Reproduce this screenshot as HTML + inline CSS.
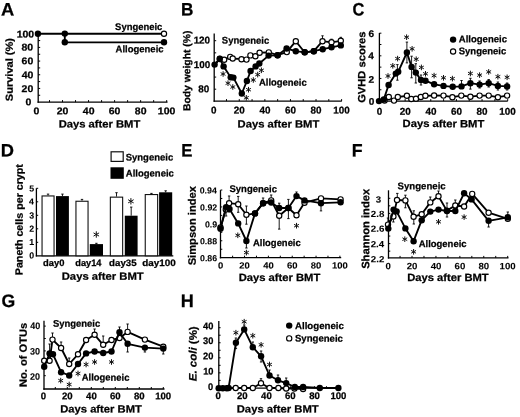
<!DOCTYPE html>
<html><head><meta charset="utf-8"><style>
html,body{margin:0;padding:0;background:#fff;}
svg{display:block;font-family:"Liberation Sans", sans-serif;text-rendering:geometricPrecision;}
text{stroke:#000;stroke-width:0.25px;}
svg{filter:blur(0.35px);}
</style></head><body>
<svg width="520" height="417" viewBox="0 0 520 417">
<rect width="520" height="417" fill="#fff"/>
<text transform="translate(0.89 15.50) scale(1.0199 1.0000) rotate(0.05)" font-size="18" font-weight="bold">A</text>
<text transform="translate(180.94 15.60) scale(0.9563 1.0000) rotate(0.05)" font-size="18" font-weight="bold">B</text>
<text transform="translate(352.45 15.60) scale(0.9075 1.0000) rotate(0.05)" font-size="18" font-weight="bold">C</text>
<text transform="translate(0.87 156.40) scale(1.0159 1.0000) rotate(0.05)" font-size="18" font-weight="bold">D</text>
<text transform="translate(181.27 156.40) scale(0.9325 1.0000) rotate(0.05)" font-size="18" font-weight="bold">E</text>
<text transform="translate(351.70 156.40) scale(0.9852 1.0000) rotate(0.05)" font-size="18" font-weight="bold">F</text>
<text transform="translate(1.39 307.10) scale(0.9794 1.0000) rotate(0.05)" font-size="18" font-weight="bold">G</text>
<text transform="translate(180.68 307.00) scale(1.0024 1.0000) rotate(0.05)" font-size="18" font-weight="bold">H</text>
<line x1="38.20" y1="33.50" x2="38.20" y2="102.75" stroke="#000" stroke-width="1.3"/>
<line x1="37.55" y1="102.10" x2="167.50" y2="102.10" stroke="#000" stroke-width="1.3"/>
<line x1="38.20" y1="95.27" x2="40.20" y2="95.27" stroke="#000" stroke-width="1"/>
<line x1="38.20" y1="88.43" x2="40.20" y2="88.43" stroke="#000" stroke-width="1"/>
<line x1="38.20" y1="81.59" x2="40.20" y2="81.59" stroke="#000" stroke-width="1"/>
<line x1="38.20" y1="74.76" x2="40.20" y2="74.76" stroke="#000" stroke-width="1"/>
<line x1="38.20" y1="67.92" x2="40.20" y2="67.92" stroke="#000" stroke-width="1"/>
<line x1="38.20" y1="61.09" x2="40.20" y2="61.09" stroke="#000" stroke-width="1"/>
<line x1="38.20" y1="54.25" x2="40.20" y2="54.25" stroke="#000" stroke-width="1"/>
<line x1="38.20" y1="47.42" x2="40.20" y2="47.42" stroke="#000" stroke-width="1"/>
<line x1="38.20" y1="40.58" x2="40.20" y2="40.58" stroke="#000" stroke-width="1"/>
<line x1="38.20" y1="33.75" x2="40.20" y2="33.75" stroke="#000" stroke-width="1"/>
<line x1="49.50" y1="102.10" x2="49.50" y2="100.10" stroke="#000" stroke-width="1"/>
<line x1="62.52" y1="102.10" x2="62.52" y2="100.10" stroke="#000" stroke-width="1"/>
<line x1="75.54" y1="102.10" x2="75.54" y2="100.10" stroke="#000" stroke-width="1"/>
<line x1="88.56" y1="102.10" x2="88.56" y2="100.10" stroke="#000" stroke-width="1"/>
<line x1="101.58" y1="102.10" x2="101.58" y2="100.10" stroke="#000" stroke-width="1"/>
<line x1="114.60" y1="102.10" x2="114.60" y2="100.10" stroke="#000" stroke-width="1"/>
<line x1="127.62" y1="102.10" x2="127.62" y2="100.10" stroke="#000" stroke-width="1"/>
<line x1="140.64" y1="102.10" x2="140.64" y2="100.10" stroke="#000" stroke-width="1"/>
<line x1="153.66" y1="102.10" x2="153.66" y2="100.10" stroke="#000" stroke-width="1"/>
<line x1="166.68" y1="102.10" x2="166.68" y2="100.10" stroke="#000" stroke-width="1"/>
<text transform="translate(16.64 37.47) scale(1.0700 1.0000) rotate(0.05)" font-size="9.8" font-weight="bold">100</text>
<text transform="translate(21.42 50.47) scale(1.0700 1.0000) rotate(0.05)" font-size="9.8" font-weight="bold">80</text>
<text transform="translate(21.59 64.27) scale(1.0700 1.0000) rotate(0.05)" font-size="9.8" font-weight="bold">60</text>
<text transform="translate(21.71 78.17) scale(1.0700 1.0000) rotate(0.05)" font-size="9.8" font-weight="bold">40</text>
<text transform="translate(21.61 91.97) scale(1.0700 1.0000) rotate(0.05)" font-size="9.8" font-weight="bold">20</text>
<text transform="translate(25.59 105.37) scale(1.0700 1.0000) rotate(0.05)" font-size="9.8" font-weight="bold">0</text>
<text transform="translate(33.57 114.27) scale(1.0700 1.0000) rotate(0.05)" font-size="9.8" font-weight="bold">0</text>
<text transform="translate(56.73 114.27) scale(1.0700 1.0000) rotate(0.05)" font-size="9.8" font-weight="bold">20</text>
<text transform="translate(82.87 114.27) scale(1.0700 1.0000) rotate(0.05)" font-size="9.8" font-weight="bold">40</text>
<text transform="translate(108.79 114.27) scale(1.0700 1.0000) rotate(0.05)" font-size="9.8" font-weight="bold">60</text>
<text transform="translate(134.86 114.27) scale(1.0700 1.0000) rotate(0.05)" font-size="9.8" font-weight="bold">80</text>
<text transform="translate(157.82 114.27) scale(1.0700 1.0000) rotate(0.05)" font-size="9.8" font-weight="bold">100</text>
<text transform="translate(58.64 127.40) scale(1.0684 1.0000) rotate(0.05)" font-size="10.5" font-weight="bold">Days after BMT</text>
<text transform="translate(12.80 101.13) rotate(-90) scale(1.0803 1.0000) rotate(0.05)" font-size="10.2" font-weight="bold">Survival (%)</text>
<text transform="translate(115.12 29.90) scale(0.9842 1.0000) rotate(0.05)" font-size="9.6" font-weight="bold">Syngeneic</text>
<text transform="translate(115.56 52.20) scale(0.9891 1.0000) rotate(0.05)" font-size="9.6" font-weight="bold">Allogeneic</text>
<polyline points="37.90,33.70 164.00,33.70" fill="none" stroke="#000" stroke-width="1.85" stroke-linejoin="round"/>
<polyline points="64.80,33.60 64.80,42.30 164.00,42.30" fill="none" stroke="#000" stroke-width="1.85" stroke-linejoin="round"/>
<circle cx="37.90" cy="33.70" r="3.2" fill="#000"/>
<circle cx="64.80" cy="33.60" r="3.2" fill="#000"/>
<circle cx="64.80" cy="42.30" r="3.2" fill="#000"/>
<circle cx="164.00" cy="42.30" r="3.2" fill="#000"/>
<circle cx="164.00" cy="33.70" r="2.62" fill="#fff" stroke="#000" stroke-width="1.15"/>
<line x1="214.20" y1="33.50" x2="214.20" y2="101.75" stroke="#000" stroke-width="1.3"/>
<line x1="213.55" y1="101.10" x2="341.80" y2="101.10" stroke="#000" stroke-width="1.3"/>
<line x1="214.20" y1="89.20" x2="216.20" y2="89.20" stroke="#000" stroke-width="1"/>
<line x1="214.20" y1="77.08" x2="216.20" y2="77.08" stroke="#000" stroke-width="1"/>
<line x1="214.20" y1="64.95" x2="216.20" y2="64.95" stroke="#000" stroke-width="1"/>
<line x1="214.20" y1="52.83" x2="216.20" y2="52.83" stroke="#000" stroke-width="1"/>
<line x1="214.20" y1="40.70" x2="216.20" y2="40.70" stroke="#000" stroke-width="1"/>
<line x1="226.49" y1="101.10" x2="226.49" y2="99.10" stroke="#000" stroke-width="1"/>
<line x1="239.28" y1="101.10" x2="239.28" y2="99.10" stroke="#000" stroke-width="1"/>
<line x1="252.07" y1="101.10" x2="252.07" y2="99.10" stroke="#000" stroke-width="1"/>
<line x1="264.86" y1="101.10" x2="264.86" y2="99.10" stroke="#000" stroke-width="1"/>
<line x1="277.65" y1="101.10" x2="277.65" y2="99.10" stroke="#000" stroke-width="1"/>
<line x1="290.44" y1="101.10" x2="290.44" y2="99.10" stroke="#000" stroke-width="1"/>
<line x1="303.23" y1="101.10" x2="303.23" y2="99.10" stroke="#000" stroke-width="1"/>
<line x1="316.02" y1="101.10" x2="316.02" y2="99.10" stroke="#000" stroke-width="1"/>
<line x1="328.81" y1="101.10" x2="328.81" y2="99.10" stroke="#000" stroke-width="1"/>
<line x1="341.60" y1="101.10" x2="341.60" y2="99.10" stroke="#000" stroke-width="1"/>
<text transform="translate(193.63 43.40) scale(1.0000 1.0000) rotate(0.05)" font-size="9.9" font-weight="bold">120</text>
<text transform="translate(193.83 68.10) scale(1.0000 1.0000) rotate(0.05)" font-size="9.9" font-weight="bold">100</text>
<text transform="translate(198.19 92.30) scale(1.0000 1.0000) rotate(0.05)" font-size="9.9" font-weight="bold">80</text>
<text transform="translate(210.95 113.50) scale(1.0000 1.0000) rotate(0.05)" font-size="9.9" font-weight="bold">0</text>
<text transform="translate(233.81 113.50) scale(1.0000 1.0000) rotate(0.05)" font-size="9.9" font-weight="bold">20</text>
<text transform="translate(259.49 113.50) scale(1.0000 1.0000) rotate(0.05)" font-size="9.9" font-weight="bold">40</text>
<text transform="translate(284.96 113.50) scale(1.0000 1.0000) rotate(0.05)" font-size="9.9" font-weight="bold">60</text>
<text transform="translate(310.56 113.50) scale(1.0000 1.0000) rotate(0.05)" font-size="9.9" font-weight="bold">80</text>
<text transform="translate(333.23 113.50) scale(1.0000 1.0000) rotate(0.05)" font-size="9.9" font-weight="bold">100</text>
<text transform="translate(237.54 127.50) scale(1.0697 1.0000) rotate(0.05)" font-size="10.5" font-weight="bold">Days after BMT</text>
<text transform="translate(190.30 111.10) rotate(-90) scale(1.0263 1.0000) rotate(0.05)" font-size="10.1" font-weight="bold">Body weight (%)</text>
<text transform="translate(221.82 43.60) scale(0.9885 1.0000) rotate(0.05)" font-size="9.6" font-weight="bold">Syngeneic</text>
<text transform="translate(258.96 85.60) scale(0.9849 1.0000) rotate(0.05)" font-size="9.6" font-weight="bold">Allogeneic</text>
<line x1="322.50" y1="41.20" x2="322.50" y2="35.80" stroke="#000" stroke-width="0.9"/>
<line x1="321.30" y1="35.80" x2="323.70" y2="35.80" stroke="#000" stroke-width="0.9"/>
<line x1="331.50" y1="42.30" x2="331.50" y2="39.20" stroke="#000" stroke-width="0.9"/>
<line x1="330.30" y1="39.20" x2="332.70" y2="39.20" stroke="#000" stroke-width="0.9"/>
<line x1="340.80" y1="40.80" x2="340.80" y2="37.30" stroke="#000" stroke-width="0.9"/>
<line x1="339.60" y1="37.30" x2="342.00" y2="37.30" stroke="#000" stroke-width="0.9"/>
<polyline points="214.60,64.60 219.80,59.00 224.20,59.80 230.20,56.90 232.70,58.50 241.50,59.20 246.50,59.60 250.40,55.40 255.40,56.20 259.60,52.70 268.80,52.40 277.60,55.20 286.80,52.10 295.80,41.20 304.60,52.30 313.80,51.20 322.50,41.20 331.50,42.30 340.80,40.80" fill="none" stroke="#000" stroke-width="1.85" stroke-linejoin="round"/>
<circle cx="219.80" cy="59.00" r="2.62" fill="#fff" stroke="#000" stroke-width="1.15"/>
<circle cx="224.20" cy="59.80" r="2.62" fill="#fff" stroke="#000" stroke-width="1.15"/>
<circle cx="230.20" cy="56.90" r="2.62" fill="#fff" stroke="#000" stroke-width="1.15"/>
<circle cx="232.70" cy="58.50" r="2.62" fill="#fff" stroke="#000" stroke-width="1.15"/>
<circle cx="241.50" cy="59.20" r="2.62" fill="#fff" stroke="#000" stroke-width="1.15"/>
<circle cx="246.50" cy="59.60" r="2.62" fill="#fff" stroke="#000" stroke-width="1.15"/>
<circle cx="250.40" cy="55.40" r="2.62" fill="#fff" stroke="#000" stroke-width="1.15"/>
<circle cx="255.40" cy="56.20" r="2.62" fill="#fff" stroke="#000" stroke-width="1.15"/>
<circle cx="259.60" cy="52.70" r="2.62" fill="#fff" stroke="#000" stroke-width="1.15"/>
<circle cx="268.80" cy="52.40" r="2.62" fill="#fff" stroke="#000" stroke-width="1.15"/>
<circle cx="277.60" cy="55.20" r="2.62" fill="#fff" stroke="#000" stroke-width="1.15"/>
<circle cx="286.80" cy="52.10" r="2.62" fill="#fff" stroke="#000" stroke-width="1.15"/>
<circle cx="295.80" cy="41.20" r="2.62" fill="#fff" stroke="#000" stroke-width="1.15"/>
<circle cx="304.60" cy="52.30" r="2.62" fill="#fff" stroke="#000" stroke-width="1.15"/>
<circle cx="313.80" cy="51.20" r="2.62" fill="#fff" stroke="#000" stroke-width="1.15"/>
<circle cx="322.50" cy="41.20" r="2.62" fill="#fff" stroke="#000" stroke-width="1.15"/>
<circle cx="331.50" cy="42.30" r="2.62" fill="#fff" stroke="#000" stroke-width="1.15"/>
<circle cx="340.80" cy="40.80" r="2.62" fill="#fff" stroke="#000" stroke-width="1.15"/>
<polyline points="214.60,64.60 219.80,58.80 223.60,66.40 230.70,77.30 233.40,77.60 241.80,93.50 246.90,81.00 250.60,71.00 255.60,66.40 259.30,63.50 268.60,55.60 277.60,55.30 286.60,48.50 295.80,51.20 304.80,52.30 313.80,51.20 322.70,49.20 331.50,47.30 340.80,45.40" fill="none" stroke="#000" stroke-width="1.85" stroke-linejoin="round"/>
<circle cx="214.60" cy="64.60" r="3.2" fill="#000"/>
<circle cx="219.80" cy="58.80" r="3.2" fill="#000"/>
<circle cx="223.60" cy="66.40" r="3.2" fill="#000"/>
<circle cx="230.70" cy="77.30" r="3.2" fill="#000"/>
<circle cx="233.40" cy="77.60" r="3.2" fill="#000"/>
<circle cx="241.80" cy="93.50" r="3.2" fill="#000"/>
<circle cx="246.90" cy="81.00" r="3.2" fill="#000"/>
<circle cx="250.60" cy="71.00" r="3.2" fill="#000"/>
<circle cx="255.60" cy="66.40" r="3.2" fill="#000"/>
<circle cx="259.30" cy="63.50" r="3.2" fill="#000"/>
<circle cx="268.60" cy="55.60" r="3.2" fill="#000"/>
<circle cx="277.60" cy="55.30" r="3.2" fill="#000"/>
<circle cx="286.60" cy="48.50" r="3.2" fill="#000"/>
<circle cx="295.80" cy="51.20" r="3.2" fill="#000"/>
<circle cx="304.80" cy="52.30" r="3.2" fill="#000"/>
<circle cx="313.80" cy="51.20" r="3.2" fill="#000"/>
<circle cx="322.70" cy="49.20" r="3.2" fill="#000"/>
<circle cx="331.50" cy="47.30" r="3.2" fill="#000"/>
<circle cx="340.80" cy="45.40" r="3.2" fill="#000"/>
<path d="M223.10,71.20L223.10,76.80M220.68,72.60L225.52,75.40M225.52,72.60L220.68,75.40" stroke="#111" stroke-width="1.0" fill="none"/>
<path d="M228.00,80.40L228.00,86.00M225.58,81.80L230.42,84.60M230.42,81.80L225.58,84.60" stroke="#111" stroke-width="1.0" fill="none"/>
<path d="M232.80,84.20L232.80,89.80M230.38,85.60L235.22,88.40M235.22,85.60L230.38,88.40" stroke="#111" stroke-width="1.0" fill="none"/>
<path d="M246.30,95.00L246.30,100.60M243.88,96.40L248.72,99.20M248.72,96.40L243.88,99.20" stroke="#111" stroke-width="1.0" fill="none"/>
<path d="M248.50,86.90L248.50,92.50M246.08,88.30L250.92,91.10M250.92,88.30L246.08,91.10" stroke="#111" stroke-width="1.0" fill="none"/>
<path d="M253.30,77.20L253.30,82.80M250.88,78.60L255.72,81.40M255.72,78.60L250.88,81.40" stroke="#111" stroke-width="1.0" fill="none"/>
<path d="M257.70,71.80L257.70,77.40M255.28,73.20L260.12,76.00M260.12,73.20L255.28,76.00" stroke="#111" stroke-width="1.0" fill="none"/>
<path d="M261.40,67.50L261.40,73.10M258.98,68.90L263.82,71.70M263.82,68.90L258.98,71.70" stroke="#111" stroke-width="1.0" fill="none"/>
<line x1="379.40" y1="33.00" x2="379.40" y2="101.75" stroke="#000" stroke-width="1.3"/>
<line x1="378.75" y1="101.10" x2="507.70" y2="101.10" stroke="#000" stroke-width="1.3"/>
<line x1="379.40" y1="89.78" x2="381.40" y2="89.78" stroke="#000" stroke-width="1"/>
<line x1="379.40" y1="78.46" x2="381.40" y2="78.46" stroke="#000" stroke-width="1"/>
<line x1="379.40" y1="67.14" x2="381.40" y2="67.14" stroke="#000" stroke-width="1"/>
<line x1="379.40" y1="55.82" x2="381.40" y2="55.82" stroke="#000" stroke-width="1"/>
<line x1="379.40" y1="44.50" x2="381.40" y2="44.50" stroke="#000" stroke-width="1"/>
<line x1="379.40" y1="33.18" x2="381.40" y2="33.18" stroke="#000" stroke-width="1"/>
<line x1="392.32" y1="101.10" x2="392.32" y2="99.10" stroke="#000" stroke-width="1"/>
<line x1="405.14" y1="101.10" x2="405.14" y2="99.10" stroke="#000" stroke-width="1"/>
<line x1="417.96" y1="101.10" x2="417.96" y2="99.10" stroke="#000" stroke-width="1"/>
<line x1="430.78" y1="101.10" x2="430.78" y2="99.10" stroke="#000" stroke-width="1"/>
<line x1="443.60" y1="101.10" x2="443.60" y2="99.10" stroke="#000" stroke-width="1"/>
<line x1="456.42" y1="101.10" x2="456.42" y2="99.10" stroke="#000" stroke-width="1"/>
<line x1="469.24" y1="101.10" x2="469.24" y2="99.10" stroke="#000" stroke-width="1"/>
<line x1="482.06" y1="101.10" x2="482.06" y2="99.10" stroke="#000" stroke-width="1"/>
<line x1="494.88" y1="101.10" x2="494.88" y2="99.10" stroke="#000" stroke-width="1"/>
<line x1="507.70" y1="101.10" x2="507.70" y2="99.10" stroke="#000" stroke-width="1"/>
<text transform="translate(368.59 37.05) scale(1.0500 1.0000) rotate(0.05)" font-size="9.6" font-weight="bold">6</text>
<text transform="translate(368.35 58.90) scale(1.0500 1.0000) rotate(0.05)" font-size="9.6" font-weight="bold">4</text>
<text transform="translate(368.58 82.65) scale(1.0500 1.0000) rotate(0.05)" font-size="9.6" font-weight="bold">2</text>
<text transform="translate(368.70 104.80) scale(1.0500 1.0000) rotate(0.05)" font-size="9.6" font-weight="bold">0</text>
<text transform="translate(376.75 114.70) scale(1.0000 1.0000) rotate(0.05)" font-size="9.9" font-weight="bold">0</text>
<text transform="translate(399.67 114.70) scale(1.0000 1.0000) rotate(0.05)" font-size="9.9" font-weight="bold">20</text>
<text transform="translate(425.41 114.70) scale(1.0000 1.0000) rotate(0.05)" font-size="9.9" font-weight="bold">40</text>
<text transform="translate(450.94 114.70) scale(1.0000 1.0000) rotate(0.05)" font-size="9.9" font-weight="bold">60</text>
<text transform="translate(476.60 114.70) scale(1.0000 1.0000) rotate(0.05)" font-size="9.9" font-weight="bold">80</text>
<text transform="translate(499.33 114.70) scale(1.0000 1.0000) rotate(0.05)" font-size="9.9" font-weight="bold">100</text>
<text transform="translate(402.54 127.10) scale(1.0697 1.0000) rotate(0.05)" font-size="10.5" font-weight="bold">Days after BMT</text>
<text transform="translate(365.30 102.85) rotate(-90) scale(1.0626 1.0000) rotate(0.05)" font-size="10.5" font-weight="bold">GVHD scores</text>
<circle cx="453.10" cy="39.60" r="3.2" fill="#000"/>
<text transform="translate(458.76 42.20) scale(0.9933 1.0000) rotate(0.05)" font-size="9.6" font-weight="bold">Allogeneic</text>
<circle cx="453.10" cy="51.50" r="2.62" fill="#fff" stroke="#000" stroke-width="1.15"/>
<text transform="translate(458.71 54.20) scale(0.9906 1.0000) rotate(0.05)" font-size="9.6" font-weight="bold">Syngeneic</text>
<line x1="397.40" y1="71.80" x2="397.40" y2="64.60" stroke="#000" stroke-width="0.9"/>
<line x1="396.20" y1="64.60" x2="398.60" y2="64.60" stroke="#000" stroke-width="0.9"/>
<line x1="397.40" y1="71.80" x2="397.40" y2="80.20" stroke="#000" stroke-width="0.9"/>
<line x1="396.20" y1="80.20" x2="398.60" y2="80.20" stroke="#000" stroke-width="0.9"/>
<line x1="406.90" y1="52.50" x2="406.90" y2="42.10" stroke="#000" stroke-width="0.9"/>
<line x1="405.70" y1="42.10" x2="408.10" y2="42.10" stroke="#000" stroke-width="0.9"/>
<line x1="406.90" y1="52.50" x2="406.90" y2="62.90" stroke="#000" stroke-width="0.9"/>
<line x1="405.70" y1="62.90" x2="408.10" y2="62.90" stroke="#000" stroke-width="0.9"/>
<line x1="411.60" y1="66.90" x2="411.60" y2="56.20" stroke="#000" stroke-width="0.9"/>
<line x1="410.40" y1="56.20" x2="412.80" y2="56.20" stroke="#000" stroke-width="0.9"/>
<line x1="411.60" y1="66.90" x2="411.60" y2="77.80" stroke="#000" stroke-width="0.9"/>
<line x1="410.40" y1="77.80" x2="412.80" y2="77.80" stroke="#000" stroke-width="0.9"/>
<line x1="415.80" y1="72.60" x2="415.80" y2="63.70" stroke="#000" stroke-width="0.9"/>
<line x1="414.60" y1="63.70" x2="417.00" y2="63.70" stroke="#000" stroke-width="0.9"/>
<line x1="415.80" y1="72.60" x2="415.80" y2="83.00" stroke="#000" stroke-width="0.9"/>
<line x1="414.60" y1="83.00" x2="417.00" y2="83.00" stroke="#000" stroke-width="0.9"/>
<line x1="421.00" y1="80.00" x2="421.00" y2="75.00" stroke="#000" stroke-width="0.9"/>
<line x1="419.80" y1="75.00" x2="422.20" y2="75.00" stroke="#000" stroke-width="0.9"/>
<line x1="421.00" y1="80.00" x2="421.00" y2="85.00" stroke="#000" stroke-width="0.9"/>
<line x1="419.80" y1="85.00" x2="422.20" y2="85.00" stroke="#000" stroke-width="0.9"/>
<line x1="461.50" y1="86.40" x2="461.50" y2="80.50" stroke="#000" stroke-width="0.9"/>
<line x1="460.30" y1="80.50" x2="462.70" y2="80.50" stroke="#000" stroke-width="0.9"/>
<line x1="470.40" y1="83.20" x2="470.40" y2="78.30" stroke="#000" stroke-width="0.9"/>
<line x1="469.20" y1="78.30" x2="471.60" y2="78.30" stroke="#000" stroke-width="0.9"/>
<line x1="470.40" y1="83.20" x2="470.40" y2="89.10" stroke="#000" stroke-width="0.9"/>
<line x1="469.20" y1="89.10" x2="471.60" y2="89.10" stroke="#000" stroke-width="0.9"/>
<line x1="479.60" y1="84.60" x2="479.60" y2="81.00" stroke="#000" stroke-width="0.9"/>
<line x1="478.40" y1="81.00" x2="480.80" y2="81.00" stroke="#000" stroke-width="0.9"/>
<line x1="479.60" y1="84.60" x2="479.60" y2="88.00" stroke="#000" stroke-width="0.9"/>
<line x1="478.40" y1="88.00" x2="480.80" y2="88.00" stroke="#000" stroke-width="0.9"/>
<line x1="488.70" y1="83.20" x2="488.70" y2="79.50" stroke="#000" stroke-width="0.9"/>
<line x1="487.50" y1="79.50" x2="489.90" y2="79.50" stroke="#000" stroke-width="0.9"/>
<line x1="488.70" y1="83.20" x2="488.70" y2="87.00" stroke="#000" stroke-width="0.9"/>
<line x1="487.50" y1="87.00" x2="489.90" y2="87.00" stroke="#000" stroke-width="0.9"/>
<line x1="497.90" y1="85.90" x2="497.90" y2="82.00" stroke="#000" stroke-width="0.9"/>
<line x1="496.70" y1="82.00" x2="499.10" y2="82.00" stroke="#000" stroke-width="0.9"/>
<line x1="497.90" y1="85.90" x2="497.90" y2="90.00" stroke="#000" stroke-width="0.9"/>
<line x1="496.70" y1="90.00" x2="499.10" y2="90.00" stroke="#000" stroke-width="0.9"/>
<line x1="507.10" y1="86.40" x2="507.10" y2="83.00" stroke="#000" stroke-width="0.9"/>
<line x1="505.90" y1="83.00" x2="508.30" y2="83.00" stroke="#000" stroke-width="0.9"/>
<line x1="507.10" y1="86.40" x2="507.10" y2="90.00" stroke="#000" stroke-width="0.9"/>
<line x1="505.90" y1="90.00" x2="508.30" y2="90.00" stroke="#000" stroke-width="0.9"/>
<polyline points="379.00,101.10 384.60,100.50 388.80,97.00 394.00,100.60 397.80,97.00 406.90,95.80 411.30,99.00 416.00,98.80 420.80,97.00 425.40,95.80 434.10,95.50 443.50,95.60 452.40,97.20 461.30,95.60 470.40,96.70 479.60,95.60 488.70,95.60 497.90,97.20 507.10,95.60" fill="none" stroke="#000" stroke-width="1.85" stroke-linejoin="round"/>
<circle cx="384.60" cy="100.50" r="2.62" fill="#fff" stroke="#000" stroke-width="1.15"/>
<circle cx="388.80" cy="97.00" r="2.62" fill="#fff" stroke="#000" stroke-width="1.15"/>
<circle cx="394.00" cy="100.60" r="2.62" fill="#fff" stroke="#000" stroke-width="1.15"/>
<circle cx="397.80" cy="97.00" r="2.62" fill="#fff" stroke="#000" stroke-width="1.15"/>
<circle cx="406.90" cy="95.80" r="2.62" fill="#fff" stroke="#000" stroke-width="1.15"/>
<circle cx="411.30" cy="99.00" r="2.62" fill="#fff" stroke="#000" stroke-width="1.15"/>
<circle cx="416.00" cy="98.80" r="2.62" fill="#fff" stroke="#000" stroke-width="1.15"/>
<circle cx="420.80" cy="97.00" r="2.62" fill="#fff" stroke="#000" stroke-width="1.15"/>
<circle cx="425.40" cy="95.80" r="2.62" fill="#fff" stroke="#000" stroke-width="1.15"/>
<circle cx="434.10" cy="95.50" r="2.62" fill="#fff" stroke="#000" stroke-width="1.15"/>
<circle cx="443.50" cy="95.60" r="2.62" fill="#fff" stroke="#000" stroke-width="1.15"/>
<circle cx="452.40" cy="97.20" r="2.62" fill="#fff" stroke="#000" stroke-width="1.15"/>
<circle cx="461.30" cy="95.60" r="2.62" fill="#fff" stroke="#000" stroke-width="1.15"/>
<circle cx="470.40" cy="96.70" r="2.62" fill="#fff" stroke="#000" stroke-width="1.15"/>
<circle cx="479.60" cy="95.60" r="2.62" fill="#fff" stroke="#000" stroke-width="1.15"/>
<circle cx="488.70" cy="95.60" r="2.62" fill="#fff" stroke="#000" stroke-width="1.15"/>
<circle cx="497.90" cy="97.20" r="2.62" fill="#fff" stroke="#000" stroke-width="1.15"/>
<circle cx="507.10" cy="95.60" r="2.62" fill="#fff" stroke="#000" stroke-width="1.15"/>
<polyline points="379.00,101.10 383.80,99.40 388.60,85.00 395.80,73.60 398.20,71.80 406.90,52.50 411.60,66.90 415.80,72.60 421.00,80.00 425.50,80.70 434.10,84.30 443.50,85.90 452.70,86.80 461.50,86.40 470.40,83.20 479.60,84.60 488.70,83.20 497.90,85.90 507.10,86.40" fill="none" stroke="#000" stroke-width="1.85" stroke-linejoin="round"/>
<circle cx="379.00" cy="101.10" r="3.2" fill="#000"/>
<circle cx="383.80" cy="99.40" r="3.2" fill="#000"/>
<circle cx="388.60" cy="85.00" r="3.2" fill="#000"/>
<circle cx="395.80" cy="73.60" r="3.2" fill="#000"/>
<circle cx="398.20" cy="71.80" r="3.2" fill="#000"/>
<circle cx="406.90" cy="52.50" r="3.2" fill="#000"/>
<circle cx="411.60" cy="66.90" r="3.2" fill="#000"/>
<circle cx="415.80" cy="72.60" r="3.2" fill="#000"/>
<circle cx="421.00" cy="80.00" r="3.2" fill="#000"/>
<circle cx="425.50" cy="80.70" r="3.2" fill="#000"/>
<circle cx="434.10" cy="84.30" r="3.2" fill="#000"/>
<circle cx="443.50" cy="85.90" r="3.2" fill="#000"/>
<circle cx="452.70" cy="86.80" r="3.2" fill="#000"/>
<circle cx="461.50" cy="86.40" r="3.2" fill="#000"/>
<circle cx="470.40" cy="83.20" r="3.2" fill="#000"/>
<circle cx="479.60" cy="84.60" r="3.2" fill="#000"/>
<circle cx="488.70" cy="83.20" r="3.2" fill="#000"/>
<circle cx="497.90" cy="85.90" r="3.2" fill="#000"/>
<circle cx="507.10" cy="86.40" r="3.2" fill="#000"/>
<path d="M388.00,73.20L388.00,78.80M385.58,74.60L390.42,77.40M390.42,74.60L385.58,77.40" stroke="#111" stroke-width="1.0" fill="none"/>
<path d="M392.80,63.00L392.80,68.60M390.38,64.40L395.22,67.20M395.22,64.40L390.38,67.20" stroke="#111" stroke-width="1.0" fill="none"/>
<path d="M397.60,55.80L397.60,61.40M395.18,57.20L400.02,60.00M400.02,57.20L395.18,60.00" stroke="#111" stroke-width="1.0" fill="none"/>
<path d="M406.60,34.40L406.60,40.00M404.18,35.80L409.02,38.60M409.02,35.80L404.18,38.60" stroke="#111" stroke-width="1.0" fill="none"/>
<path d="M412.10,46.00L412.10,51.60M409.68,47.40L414.52,50.20M414.52,47.40L409.68,50.20" stroke="#111" stroke-width="1.0" fill="none"/>
<path d="M416.20,56.40L416.20,62.00M413.78,57.80L418.62,60.60M418.62,57.80L413.78,60.60" stroke="#111" stroke-width="1.0" fill="none"/>
<path d="M421.40,64.60L421.40,70.20M418.98,66.00L423.82,68.80M423.82,66.00L418.98,68.80" stroke="#111" stroke-width="1.0" fill="none"/>
<path d="M425.50,71.00L425.50,76.60M423.08,72.40L427.92,75.20M427.92,72.40L423.08,75.20" stroke="#111" stroke-width="1.0" fill="none"/>
<path d="M434.10,72.80L434.10,78.40M431.68,74.20L436.52,77.00M436.52,74.20L431.68,77.00" stroke="#111" stroke-width="1.0" fill="none"/>
<path d="M443.50,75.00L443.50,80.60M441.08,76.40L445.92,79.20M445.92,76.40L441.08,79.20" stroke="#111" stroke-width="1.0" fill="none"/>
<path d="M452.40,75.80L452.40,81.40M449.98,77.20L454.82,80.00M454.82,77.20L449.98,80.00" stroke="#111" stroke-width="1.0" fill="none"/>
<path d="M470.40,70.70L470.40,76.30M467.98,72.10L472.82,74.90M472.82,72.10L467.98,74.90" stroke="#111" stroke-width="1.0" fill="none"/>
<path d="M479.60,72.30L479.60,77.90M477.18,73.70L482.02,76.50M482.02,73.70L477.18,76.50" stroke="#111" stroke-width="1.0" fill="none"/>
<path d="M488.70,69.10L488.70,74.70M486.28,70.50L491.12,73.30M491.12,70.50L486.28,73.30" stroke="#111" stroke-width="1.0" fill="none"/>
<path d="M497.90,73.90L497.90,79.50M495.48,75.30L500.32,78.10M500.32,75.30L495.48,78.10" stroke="#111" stroke-width="1.0" fill="none"/>
<path d="M507.10,74.50L507.10,80.10M504.68,75.90L509.52,78.70M509.52,75.90L504.68,78.70" stroke="#111" stroke-width="1.0" fill="none"/>
<line x1="36.40" y1="188.30" x2="36.40" y2="256.45" stroke="#000" stroke-width="1.3"/>
<line x1="35.75" y1="255.80" x2="173.30" y2="255.80" stroke="#000" stroke-width="1.3"/>
<line x1="36.40" y1="242.30" x2="38.20" y2="242.30" stroke="#000" stroke-width="1"/>
<line x1="36.40" y1="228.80" x2="38.20" y2="228.80" stroke="#000" stroke-width="1"/>
<line x1="36.40" y1="215.30" x2="38.20" y2="215.30" stroke="#000" stroke-width="1"/>
<line x1="36.40" y1="201.80" x2="38.20" y2="201.80" stroke="#000" stroke-width="1"/>
<line x1="36.40" y1="188.30" x2="38.20" y2="188.30" stroke="#000" stroke-width="1"/>
<text transform="translate(29.26 191.58) scale(1.0000 1.0000) rotate(0.05)" font-size="8.8" font-weight="bold" style="stroke-width:0.08px">5</text>
<text transform="translate(29.06 204.62) scale(1.0000 1.0000) rotate(0.05)" font-size="8.8" font-weight="bold" style="stroke-width:0.08px">4</text>
<text transform="translate(29.32 218.41) scale(1.0000 1.0000) rotate(0.05)" font-size="8.8" font-weight="bold" style="stroke-width:0.08px">3</text>
<text transform="translate(29.37 231.87) scale(1.0000 1.0000) rotate(0.05)" font-size="8.8" font-weight="bold" style="stroke-width:0.08px">2</text>
<text transform="translate(29.26 245.12) scale(1.0000 1.0000) rotate(0.05)" font-size="8.8" font-weight="bold" style="stroke-width:0.08px">1</text>
<text transform="translate(29.37 258.62) scale(1.0000 1.0000) rotate(0.05)" font-size="8.8" font-weight="bold" style="stroke-width:0.08px">0</text>
<rect x="42.05" y="195.95" width="12.00" height="59.85" fill="#fff" stroke="#111" stroke-width="1.1"/>
<line x1="48.05" y1="195.40" x2="48.05" y2="194.10" stroke="#000" stroke-width="0.9"/>
<line x1="46.85" y1="194.10" x2="49.25" y2="194.10" stroke="#000" stroke-width="0.9"/>
<rect x="56.00" y="196.10" width="12.90" height="59.70" fill="#000"/>
<line x1="62.45" y1="196.10" x2="62.45" y2="194.10" stroke="#000" stroke-width="0.9"/>
<line x1="61.25" y1="194.10" x2="63.65" y2="194.10" stroke="#000" stroke-width="0.9"/>
<rect x="75.95" y="201.25" width="12.10" height="54.55" fill="#fff" stroke="#111" stroke-width="1.1"/>
<line x1="82.00" y1="200.70" x2="82.00" y2="199.40" stroke="#000" stroke-width="0.9"/>
<line x1="80.80" y1="199.40" x2="83.20" y2="199.40" stroke="#000" stroke-width="0.9"/>
<rect x="89.80" y="244.10" width="13.20" height="11.70" fill="#000"/>
<line x1="96.40" y1="244.10" x2="96.40" y2="243.30" stroke="#000" stroke-width="0.9"/>
<line x1="95.20" y1="243.30" x2="97.60" y2="243.30" stroke="#000" stroke-width="0.9"/>
<rect x="110.35" y="197.15" width="12.30" height="58.65" fill="#fff" stroke="#111" stroke-width="1.1"/>
<line x1="116.50" y1="196.60" x2="116.50" y2="192.70" stroke="#000" stroke-width="0.9"/>
<line x1="115.30" y1="192.70" x2="117.70" y2="192.70" stroke="#000" stroke-width="0.9"/>
<rect x="124.80" y="215.70" width="12.80" height="40.10" fill="#000"/>
<line x1="131.20" y1="215.70" x2="131.20" y2="207.10" stroke="#000" stroke-width="0.9"/>
<line x1="130.00" y1="207.10" x2="132.40" y2="207.10" stroke="#000" stroke-width="0.9"/>
<rect x="145.25" y="194.55" width="12.40" height="61.25" fill="#fff" stroke="#111" stroke-width="1.1"/>
<line x1="151.45" y1="194.00" x2="151.45" y2="193.40" stroke="#000" stroke-width="0.9"/>
<line x1="150.25" y1="193.40" x2="152.65" y2="193.40" stroke="#000" stroke-width="0.9"/>
<rect x="159.10" y="192.30" width="13.10" height="63.50" fill="#000"/>
<line x1="165.65" y1="192.30" x2="165.65" y2="190.80" stroke="#000" stroke-width="0.9"/>
<line x1="164.45" y1="190.80" x2="166.85" y2="190.80" stroke="#000" stroke-width="0.9"/>
<path d="M96.30,231.30L96.30,237.70M93.53,232.90L99.07,236.10M99.07,232.90L93.53,236.10" stroke="#111" stroke-width="1.0" fill="none"/>
<path d="M130.90,198.10L130.90,204.50M128.13,199.70L133.67,202.90M133.67,199.70L128.13,202.90" stroke="#111" stroke-width="1.0" fill="none"/>
<text transform="translate(43.03 265.90) scale(1.0080 1.0000) rotate(0.05)" font-size="9.3" font-weight="bold">day0</text>
<text transform="translate(75.23 265.90) scale(0.9943 1.0000) rotate(0.05)" font-size="9.3" font-weight="bold">day14</text>
<text transform="translate(109.11 265.90) scale(1.0452 1.0000) rotate(0.05)" font-size="9.3" font-weight="bold">day35</text>
<text transform="translate(142.20 265.90) scale(1.0623 1.0000) rotate(0.05)" font-size="9.3" font-weight="bold">day100</text>
<text transform="translate(61.74 279.80) scale(1.0724 1.0000) rotate(0.05)" font-size="10.5" font-weight="bold">Days after BMT</text>
<text transform="translate(22.60 275.22) rotate(-90) scale(1.0384 1.0000) rotate(0.05)" font-size="10.3" font-weight="bold">Paneth cells per crypt</text>
<rect x="111.1" y="151.8" width="12.1" height="9.6" fill="#fff" stroke="#111" stroke-width="1.2"/>
<rect x="110.5" y="167.3" width="13.3" height="11.5" fill="#000"/>
<text transform="translate(125.72 160.40) scale(0.9885 1.0000) rotate(0.05)" font-size="9.6" font-weight="bold">Syngeneic</text>
<text transform="translate(125.76 176.50) scale(0.9912 1.0000) rotate(0.05)" font-size="9.6" font-weight="bold">Allogeneic</text>
<line x1="220.50" y1="190.10" x2="220.50" y2="258.35" stroke="#000" stroke-width="1.3"/>
<line x1="219.85" y1="257.70" x2="341.20" y2="257.70" stroke="#000" stroke-width="1.3"/>
<line x1="220.50" y1="249.24" x2="222.30" y2="249.24" stroke="#000" stroke-width="1"/>
<line x1="220.50" y1="240.78" x2="222.30" y2="240.78" stroke="#000" stroke-width="1"/>
<line x1="220.50" y1="232.32" x2="222.30" y2="232.32" stroke="#000" stroke-width="1"/>
<line x1="220.50" y1="223.86" x2="222.30" y2="223.86" stroke="#000" stroke-width="1"/>
<line x1="220.50" y1="215.40" x2="222.30" y2="215.40" stroke="#000" stroke-width="1"/>
<line x1="220.50" y1="206.94" x2="222.30" y2="206.94" stroke="#000" stroke-width="1"/>
<line x1="220.50" y1="198.48" x2="222.30" y2="198.48" stroke="#000" stroke-width="1"/>
<line x1="220.50" y1="190.02" x2="222.30" y2="190.02" stroke="#000" stroke-width="1"/>
<line x1="232.62" y1="257.70" x2="232.62" y2="255.70" stroke="#000" stroke-width="1"/>
<line x1="244.54" y1="257.70" x2="244.54" y2="255.70" stroke="#000" stroke-width="1"/>
<line x1="256.46" y1="257.70" x2="256.46" y2="255.70" stroke="#000" stroke-width="1"/>
<line x1="268.38" y1="257.70" x2="268.38" y2="255.70" stroke="#000" stroke-width="1"/>
<line x1="280.30" y1="257.70" x2="280.30" y2="255.70" stroke="#000" stroke-width="1"/>
<line x1="292.22" y1="257.70" x2="292.22" y2="255.70" stroke="#000" stroke-width="1"/>
<line x1="304.14" y1="257.70" x2="304.14" y2="255.70" stroke="#000" stroke-width="1"/>
<line x1="316.06" y1="257.70" x2="316.06" y2="255.70" stroke="#000" stroke-width="1"/>
<line x1="327.98" y1="257.70" x2="327.98" y2="255.70" stroke="#000" stroke-width="1"/>
<line x1="339.90" y1="257.70" x2="339.90" y2="255.70" stroke="#000" stroke-width="1"/>
<text transform="translate(199.73 193.55) scale(1.0000 1.0000) rotate(0.05)" font-size="8.8" font-weight="bold" style="stroke-width:0.08px">0.94</text>
<text transform="translate(200.04 210.46) scale(1.0000 1.0000) rotate(0.05)" font-size="8.8" font-weight="bold" style="stroke-width:0.08px">0.92</text>
<text transform="translate(204.88 227.38) scale(1.0000 1.0000) rotate(0.05)" font-size="8.8" font-weight="bold" style="stroke-width:0.08px">0.9</text>
<text transform="translate(199.95 244.30) scale(1.0000 1.0000) rotate(0.05)" font-size="8.8" font-weight="bold" style="stroke-width:0.08px">0.88</text>
<text transform="translate(199.99 261.22) scale(1.0000 1.0000) rotate(0.05)" font-size="8.8" font-weight="bold" style="stroke-width:0.08px">0.86</text>
<text transform="translate(218.08 268.49) scale(1.0500 1.0000) rotate(0.05)" font-size="9.0" font-weight="bold" style="stroke-width:0.08px">0</text>
<text transform="translate(239.32 268.49) scale(1.0500 1.0000) rotate(0.05)" font-size="9.0" font-weight="bold" style="stroke-width:0.08px">20</text>
<text transform="translate(263.25 268.49) scale(1.0500 1.0000) rotate(0.05)" font-size="9.0" font-weight="bold" style="stroke-width:0.08px">40</text>
<text transform="translate(286.99 268.49) scale(1.0500 1.0000) rotate(0.05)" font-size="9.0" font-weight="bold" style="stroke-width:0.08px">60</text>
<text transform="translate(310.85 268.49) scale(1.0500 1.0000) rotate(0.05)" font-size="9.0" font-weight="bold" style="stroke-width:0.08px">80</text>
<text transform="translate(331.91 268.49) scale(1.0500 1.0000) rotate(0.05)" font-size="9.0" font-weight="bold" style="stroke-width:0.08px">100</text>
<text transform="translate(238.64 281.00) scale(1.0684 1.0000) rotate(0.05)" font-size="10.5" font-weight="bold">Days after BMT</text>
<text transform="translate(195.80 265.33) rotate(-90) scale(1.0313 1.0000) rotate(0.05)" font-size="10.8" font-weight="bold">Simpson index</text>
<text transform="translate(229.52 192.10) scale(0.9885 1.0000) rotate(0.05)" font-size="9.6" font-weight="bold">Syngeneic</text>
<text transform="translate(253.06 246.00) scale(0.9828 1.0000) rotate(0.05)" font-size="9.6" font-weight="bold">Allogeneic</text>
<line x1="229.10" y1="203.20" x2="229.10" y2="196.00" stroke="#000" stroke-width="0.9"/>
<line x1="227.90" y1="196.00" x2="230.30" y2="196.00" stroke="#000" stroke-width="0.9"/>
<line x1="229.10" y1="203.20" x2="229.10" y2="212.00" stroke="#000" stroke-width="0.9"/>
<line x1="227.90" y1="212.00" x2="230.30" y2="212.00" stroke="#000" stroke-width="0.9"/>
<line x1="238.20" y1="204.20" x2="238.20" y2="196.40" stroke="#000" stroke-width="0.9"/>
<line x1="237.00" y1="196.40" x2="239.40" y2="196.40" stroke="#000" stroke-width="0.9"/>
<line x1="238.20" y1="204.20" x2="238.20" y2="212.30" stroke="#000" stroke-width="0.9"/>
<line x1="237.00" y1="212.30" x2="239.40" y2="212.30" stroke="#000" stroke-width="0.9"/>
<line x1="246.40" y1="214.80" x2="246.40" y2="206.00" stroke="#000" stroke-width="0.9"/>
<line x1="245.20" y1="206.00" x2="247.60" y2="206.00" stroke="#000" stroke-width="0.9"/>
<line x1="246.40" y1="214.80" x2="246.40" y2="224.20" stroke="#000" stroke-width="0.9"/>
<line x1="245.20" y1="224.20" x2="247.60" y2="224.20" stroke="#000" stroke-width="0.9"/>
<line x1="246.40" y1="241.00" x2="246.40" y2="248.00" stroke="#000" stroke-width="0.9"/>
<line x1="245.20" y1="248.00" x2="247.60" y2="248.00" stroke="#000" stroke-width="0.9"/>
<line x1="226.10" y1="207.10" x2="226.10" y2="216.00" stroke="#000" stroke-width="0.9"/>
<line x1="224.90" y1="216.00" x2="227.30" y2="216.00" stroke="#000" stroke-width="0.9"/>
<line x1="279.20" y1="215.70" x2="279.20" y2="229.10" stroke="#000" stroke-width="0.9"/>
<line x1="278.00" y1="229.10" x2="280.40" y2="229.10" stroke="#000" stroke-width="0.9"/>
<line x1="279.20" y1="208.00" x2="279.20" y2="203.20" stroke="#000" stroke-width="0.9"/>
<line x1="278.00" y1="203.20" x2="280.40" y2="203.20" stroke="#000" stroke-width="0.9"/>
<line x1="288.40" y1="208.00" x2="288.40" y2="199.40" stroke="#000" stroke-width="0.9"/>
<line x1="287.20" y1="199.40" x2="289.60" y2="199.40" stroke="#000" stroke-width="0.9"/>
<line x1="288.40" y1="208.00" x2="288.40" y2="218.60" stroke="#000" stroke-width="0.9"/>
<line x1="287.20" y1="218.60" x2="289.60" y2="218.60" stroke="#000" stroke-width="0.9"/>
<line x1="321.00" y1="203.20" x2="321.00" y2="210.90" stroke="#000" stroke-width="0.9"/>
<line x1="319.80" y1="210.90" x2="322.20" y2="210.90" stroke="#000" stroke-width="0.9"/>
<line x1="271.20" y1="200.40" x2="271.20" y2="195.00" stroke="#000" stroke-width="0.9"/>
<line x1="270.00" y1="195.00" x2="272.40" y2="195.00" stroke="#000" stroke-width="0.9"/>
<line x1="263.10" y1="203.20" x2="263.10" y2="198.00" stroke="#000" stroke-width="0.9"/>
<line x1="261.90" y1="198.00" x2="264.30" y2="198.00" stroke="#000" stroke-width="0.9"/>
<line x1="296.50" y1="196.10" x2="296.50" y2="192.00" stroke="#000" stroke-width="0.9"/>
<line x1="295.30" y1="192.00" x2="297.70" y2="192.00" stroke="#000" stroke-width="0.9"/>
<polyline points="220.50,227.50 225.80,209.50 229.10,203.20 238.20,204.20 246.40,214.80 255.00,213.40 263.10,203.20 271.20,200.40 279.20,215.70 288.40,208.00 296.50,215.30 304.50,202.70 321.00,198.40 340.60,199.40" fill="none" stroke="#000" stroke-width="1.85" stroke-linejoin="round"/>
<circle cx="220.50" cy="227.50" r="2.62" fill="#fff" stroke="#000" stroke-width="1.15"/>
<circle cx="225.80" cy="209.50" r="2.62" fill="#fff" stroke="#000" stroke-width="1.15"/>
<circle cx="229.10" cy="203.20" r="2.62" fill="#fff" stroke="#000" stroke-width="1.15"/>
<circle cx="238.20" cy="204.20" r="2.62" fill="#fff" stroke="#000" stroke-width="1.15"/>
<circle cx="246.40" cy="214.80" r="2.62" fill="#fff" stroke="#000" stroke-width="1.15"/>
<circle cx="255.00" cy="213.40" r="2.62" fill="#fff" stroke="#000" stroke-width="1.15"/>
<circle cx="263.10" cy="203.20" r="2.62" fill="#fff" stroke="#000" stroke-width="1.15"/>
<circle cx="271.20" cy="200.40" r="2.62" fill="#fff" stroke="#000" stroke-width="1.15"/>
<circle cx="279.20" cy="215.70" r="2.62" fill="#fff" stroke="#000" stroke-width="1.15"/>
<circle cx="288.40" cy="208.00" r="2.62" fill="#fff" stroke="#000" stroke-width="1.15"/>
<circle cx="296.50" cy="215.30" r="2.62" fill="#fff" stroke="#000" stroke-width="1.15"/>
<circle cx="304.50" cy="202.70" r="2.62" fill="#fff" stroke="#000" stroke-width="1.15"/>
<circle cx="321.00" cy="198.40" r="2.62" fill="#fff" stroke="#000" stroke-width="1.15"/>
<circle cx="340.60" cy="199.40" r="2.62" fill="#fff" stroke="#000" stroke-width="1.15"/>
<polyline points="220.50,228.80 226.10,207.10 229.50,209.00 238.20,223.40 246.40,241.00 255.00,213.40 263.10,203.20 271.20,202.50 279.20,208.00 288.40,208.00 296.50,196.10 304.50,200.40 321.00,203.20 340.60,202.30" fill="none" stroke="#000" stroke-width="1.85" stroke-linejoin="round"/>
<circle cx="220.50" cy="228.80" r="3.2" fill="#000"/>
<circle cx="226.10" cy="207.10" r="3.2" fill="#000"/>
<circle cx="229.50" cy="209.00" r="3.2" fill="#000"/>
<circle cx="238.20" cy="223.40" r="3.2" fill="#000"/>
<circle cx="246.40" cy="241.00" r="3.2" fill="#000"/>
<circle cx="255.00" cy="213.40" r="3.2" fill="#000"/>
<circle cx="263.10" cy="203.20" r="3.2" fill="#000"/>
<circle cx="271.20" cy="202.50" r="3.2" fill="#000"/>
<circle cx="279.20" cy="208.00" r="3.2" fill="#000"/>
<circle cx="288.40" cy="208.00" r="3.2" fill="#000"/>
<circle cx="296.50" cy="196.10" r="3.2" fill="#000"/>
<circle cx="304.50" cy="200.40" r="3.2" fill="#000"/>
<circle cx="321.00" cy="203.20" r="3.2" fill="#000"/>
<circle cx="340.60" cy="202.30" r="3.2" fill="#000"/>
<path d="M237.80,232.50L237.80,238.10M235.38,233.90L240.22,236.70M240.22,233.90L235.38,236.70" stroke="#111" stroke-width="1.0" fill="none"/>
<path d="M246.40,249.80L246.40,255.40M243.98,251.20L248.82,254.00M248.82,251.20L243.98,254.00" stroke="#111" stroke-width="1.0" fill="none"/>
<path d="M296.50,222.90L296.50,228.50M294.08,224.30L298.92,227.10M298.92,224.30L294.08,227.10" stroke="#111" stroke-width="1.0" fill="none"/>
<line x1="388.50" y1="190.30" x2="388.50" y2="258.55" stroke="#000" stroke-width="1.3"/>
<line x1="387.85" y1="257.90" x2="508.50" y2="257.90" stroke="#000" stroke-width="1.3"/>
<line x1="388.50" y1="251.15" x2="390.30" y2="251.15" stroke="#000" stroke-width="1"/>
<line x1="388.50" y1="243.60" x2="390.30" y2="243.60" stroke="#000" stroke-width="1"/>
<line x1="388.50" y1="236.05" x2="390.30" y2="236.05" stroke="#000" stroke-width="1"/>
<line x1="388.50" y1="228.50" x2="390.30" y2="228.50" stroke="#000" stroke-width="1"/>
<line x1="388.50" y1="220.95" x2="390.30" y2="220.95" stroke="#000" stroke-width="1"/>
<line x1="388.50" y1="213.40" x2="390.30" y2="213.40" stroke="#000" stroke-width="1"/>
<line x1="388.50" y1="205.85" x2="390.30" y2="205.85" stroke="#000" stroke-width="1"/>
<line x1="388.50" y1="198.30" x2="390.30" y2="198.30" stroke="#000" stroke-width="1"/>
<line x1="400.06" y1="257.90" x2="400.06" y2="255.90" stroke="#000" stroke-width="1"/>
<line x1="412.02" y1="257.90" x2="412.02" y2="255.90" stroke="#000" stroke-width="1"/>
<line x1="423.98" y1="257.90" x2="423.98" y2="255.90" stroke="#000" stroke-width="1"/>
<line x1="435.94" y1="257.90" x2="435.94" y2="255.90" stroke="#000" stroke-width="1"/>
<line x1="447.90" y1="257.90" x2="447.90" y2="255.90" stroke="#000" stroke-width="1"/>
<line x1="459.86" y1="257.90" x2="459.86" y2="255.90" stroke="#000" stroke-width="1"/>
<line x1="471.82" y1="257.90" x2="471.82" y2="255.90" stroke="#000" stroke-width="1"/>
<line x1="483.78" y1="257.90" x2="483.78" y2="255.90" stroke="#000" stroke-width="1"/>
<line x1="495.74" y1="257.90" x2="495.74" y2="255.90" stroke="#000" stroke-width="1"/>
<line x1="507.70" y1="257.90" x2="507.70" y2="255.90" stroke="#000" stroke-width="1"/>
<text transform="translate(375.76 202.38) scale(1.0800 1.0000) rotate(0.05)" font-size="9.0" font-weight="bold" style="stroke-width:0.08px">3</text>
<text transform="translate(370.82 216.99) scale(1.0800 1.0000) rotate(0.05)" font-size="9.0" font-weight="bold" style="stroke-width:0.08px">2.8</text>
<text transform="translate(370.84 231.69) scale(1.0800 1.0000) rotate(0.05)" font-size="9.0" font-weight="bold" style="stroke-width:0.08px">2.6</text>
<text transform="translate(370.70 247.14) scale(1.0800 1.0000) rotate(0.05)" font-size="9.0" font-weight="bold" style="stroke-width:0.08px">2.4</text>
<text transform="translate(370.87 262.14) scale(1.0800 1.0000) rotate(0.05)" font-size="9.0" font-weight="bold" style="stroke-width:0.08px">2.2</text>
<text transform="translate(385.42 269.36) scale(1.0500 1.0000) rotate(0.05)" font-size="9.2" font-weight="bold" style="stroke-width:0.08px">0</text>
<text transform="translate(406.68 269.36) scale(1.0500 1.0000) rotate(0.05)" font-size="9.2" font-weight="bold" style="stroke-width:0.08px">20</text>
<text transform="translate(430.70 269.36) scale(1.0500 1.0000) rotate(0.05)" font-size="9.2" font-weight="bold" style="stroke-width:0.08px">40</text>
<text transform="translate(454.51 269.36) scale(1.0500 1.0000) rotate(0.05)" font-size="9.2" font-weight="bold" style="stroke-width:0.08px">60</text>
<text transform="translate(478.45 269.36) scale(1.0500 1.0000) rotate(0.05)" font-size="9.2" font-weight="bold" style="stroke-width:0.08px">80</text>
<text transform="translate(499.54 269.36) scale(1.0500 1.0000) rotate(0.05)" font-size="9.2" font-weight="bold" style="stroke-width:0.08px">100</text>
<text transform="translate(407.14 281.00) scale(1.0671 1.0000) rotate(0.05)" font-size="10.5" font-weight="bold">Days after BMT</text>
<text transform="translate(369.20 268.84) rotate(-90) scale(1.0341 1.0000) rotate(0.05)" font-size="10.8" font-weight="bold">Shannon index</text>
<text transform="translate(397.61 189.20) scale(1.0011 1.0000) rotate(0.05)" font-size="9.6" font-weight="bold">Syngeneic</text>
<text transform="translate(418.66 247.00) scale(0.9870 1.0000) rotate(0.05)" font-size="9.6" font-weight="bold">Allogeneic</text>
<line x1="397.30" y1="200.00" x2="397.30" y2="193.40" stroke="#000" stroke-width="0.9"/>
<line x1="396.10" y1="193.40" x2="398.50" y2="193.40" stroke="#000" stroke-width="0.9"/>
<line x1="405.40" y1="200.40" x2="405.40" y2="195.20" stroke="#000" stroke-width="0.9"/>
<line x1="404.20" y1="195.20" x2="406.60" y2="195.20" stroke="#000" stroke-width="0.9"/>
<line x1="405.40" y1="200.40" x2="405.40" y2="207.80" stroke="#000" stroke-width="0.9"/>
<line x1="404.20" y1="207.80" x2="406.60" y2="207.80" stroke="#000" stroke-width="0.9"/>
<line x1="413.80" y1="216.70" x2="413.80" y2="210.80" stroke="#000" stroke-width="0.9"/>
<line x1="412.60" y1="210.80" x2="415.00" y2="210.80" stroke="#000" stroke-width="0.9"/>
<line x1="413.80" y1="216.70" x2="413.80" y2="224.00" stroke="#000" stroke-width="0.9"/>
<line x1="412.60" y1="224.00" x2="415.00" y2="224.00" stroke="#000" stroke-width="0.9"/>
<line x1="430.30" y1="202.40" x2="430.30" y2="197.00" stroke="#000" stroke-width="0.9"/>
<line x1="429.10" y1="197.00" x2="431.50" y2="197.00" stroke="#000" stroke-width="0.9"/>
<line x1="438.50" y1="196.30" x2="438.50" y2="191.00" stroke="#000" stroke-width="0.9"/>
<line x1="437.30" y1="191.00" x2="439.70" y2="191.00" stroke="#000" stroke-width="0.9"/>
<line x1="447.00" y1="211.00" x2="447.00" y2="217.00" stroke="#000" stroke-width="0.9"/>
<line x1="445.80" y1="217.00" x2="448.20" y2="217.00" stroke="#000" stroke-width="0.9"/>
<line x1="447.00" y1="211.00" x2="447.00" y2="203.00" stroke="#000" stroke-width="0.9"/>
<line x1="445.80" y1="203.00" x2="448.20" y2="203.00" stroke="#000" stroke-width="0.9"/>
<line x1="455.30" y1="205.50" x2="455.30" y2="200.00" stroke="#000" stroke-width="0.9"/>
<line x1="454.10" y1="200.00" x2="456.50" y2="200.00" stroke="#000" stroke-width="0.9"/>
<line x1="388.00" y1="224.60" x2="388.00" y2="218.00" stroke="#000" stroke-width="0.9"/>
<line x1="386.80" y1="218.00" x2="389.20" y2="218.00" stroke="#000" stroke-width="0.9"/>
<line x1="393.40" y1="216.40" x2="393.40" y2="222.00" stroke="#000" stroke-width="0.9"/>
<line x1="392.20" y1="222.00" x2="394.60" y2="222.00" stroke="#000" stroke-width="0.9"/>
<line x1="488.60" y1="220.80" x2="488.60" y2="227.00" stroke="#000" stroke-width="0.9"/>
<line x1="487.40" y1="227.00" x2="489.80" y2="227.00" stroke="#000" stroke-width="0.9"/>
<line x1="507.80" y1="217.30" x2="507.80" y2="212.00" stroke="#000" stroke-width="0.9"/>
<line x1="506.60" y1="212.00" x2="509.00" y2="212.00" stroke="#000" stroke-width="0.9"/>
<polyline points="388.00,224.60 393.40,216.40 397.00,200.00 405.40,200.40 413.60,216.70 421.70,214.30 430.30,202.40 438.50,196.30 446.80,210.60 455.30,205.50 464.10,206.50 472.20,193.90 488.60,212.70 507.80,218.80" fill="none" stroke="#000" stroke-width="1.85" stroke-linejoin="round"/>
<circle cx="388.00" cy="224.60" r="2.62" fill="#fff" stroke="#000" stroke-width="1.15"/>
<circle cx="393.40" cy="216.40" r="2.62" fill="#fff" stroke="#000" stroke-width="1.15"/>
<circle cx="397.00" cy="200.00" r="2.62" fill="#fff" stroke="#000" stroke-width="1.15"/>
<circle cx="405.40" cy="200.40" r="2.62" fill="#fff" stroke="#000" stroke-width="1.15"/>
<circle cx="413.60" cy="216.70" r="2.62" fill="#fff" stroke="#000" stroke-width="1.15"/>
<circle cx="421.70" cy="214.30" r="2.62" fill="#fff" stroke="#000" stroke-width="1.15"/>
<circle cx="430.30" cy="202.40" r="2.62" fill="#fff" stroke="#000" stroke-width="1.15"/>
<circle cx="438.50" cy="196.30" r="2.62" fill="#fff" stroke="#000" stroke-width="1.15"/>
<circle cx="446.80" cy="210.60" r="2.62" fill="#fff" stroke="#000" stroke-width="1.15"/>
<circle cx="455.30" cy="205.50" r="2.62" fill="#fff" stroke="#000" stroke-width="1.15"/>
<circle cx="464.10" cy="206.50" r="2.62" fill="#fff" stroke="#000" stroke-width="1.15"/>
<circle cx="472.20" cy="193.90" r="2.62" fill="#fff" stroke="#000" stroke-width="1.15"/>
<circle cx="488.60" cy="212.70" r="2.62" fill="#fff" stroke="#000" stroke-width="1.15"/>
<circle cx="507.80" cy="218.80" r="2.62" fill="#fff" stroke="#000" stroke-width="1.15"/>
<polyline points="388.30,228.60 393.60,209.60 396.60,211.40 405.40,228.40 413.60,241.20 421.70,220.20 430.30,211.60 438.50,209.60 447.00,211.00 455.30,211.00 464.10,193.30 471.60,199.40 488.60,220.80 507.80,217.30" fill="none" stroke="#000" stroke-width="1.85" stroke-linejoin="round"/>
<circle cx="388.30" cy="228.60" r="3.2" fill="#000"/>
<circle cx="393.60" cy="209.60" r="3.2" fill="#000"/>
<circle cx="396.60" cy="211.40" r="3.2" fill="#000"/>
<circle cx="405.40" cy="228.40" r="3.2" fill="#000"/>
<circle cx="413.60" cy="241.20" r="3.2" fill="#000"/>
<circle cx="421.70" cy="220.20" r="3.2" fill="#000"/>
<circle cx="430.30" cy="211.60" r="3.2" fill="#000"/>
<circle cx="438.50" cy="209.60" r="3.2" fill="#000"/>
<circle cx="447.00" cy="211.00" r="3.2" fill="#000"/>
<circle cx="455.30" cy="211.00" r="3.2" fill="#000"/>
<circle cx="464.10" cy="193.30" r="3.2" fill="#000"/>
<circle cx="471.60" cy="199.40" r="3.2" fill="#000"/>
<circle cx="488.60" cy="220.80" r="3.2" fill="#000"/>
<circle cx="507.80" cy="217.30" r="3.2" fill="#000"/>
<path d="M404.80,236.40L404.80,242.00M402.38,237.80L407.22,240.60M407.22,237.80L402.38,240.60" stroke="#111" stroke-width="1.0" fill="none"/>
<path d="M413.60,249.00L413.60,254.60M411.18,250.40L416.02,253.20M416.02,250.40L411.18,253.20" stroke="#111" stroke-width="1.0" fill="none"/>
<path d="M438.50,219.00L438.50,224.60M436.08,220.40L440.92,223.20M440.92,220.40L436.08,223.20" stroke="#111" stroke-width="1.0" fill="none"/>
<path d="M464.10,214.30L464.10,219.90M461.68,215.70L466.52,218.50M466.52,215.70L461.68,218.50" stroke="#111" stroke-width="1.0" fill="none"/>
<line x1="44.00" y1="320.70" x2="44.00" y2="389.65" stroke="#000" stroke-width="1.3"/>
<line x1="43.35" y1="389.00" x2="164.50" y2="389.00" stroke="#000" stroke-width="1.3"/>
<line x1="44.00" y1="375.70" x2="45.80" y2="375.70" stroke="#000" stroke-width="1"/>
<line x1="44.00" y1="363.30" x2="45.80" y2="363.30" stroke="#000" stroke-width="1"/>
<line x1="44.00" y1="350.90" x2="45.80" y2="350.90" stroke="#000" stroke-width="1"/>
<line x1="44.00" y1="338.50" x2="45.80" y2="338.50" stroke="#000" stroke-width="1"/>
<line x1="44.00" y1="326.10" x2="45.80" y2="326.10" stroke="#000" stroke-width="1"/>
<line x1="55.30" y1="389.00" x2="55.30" y2="387.00" stroke="#000" stroke-width="1"/>
<line x1="67.30" y1="389.00" x2="67.30" y2="387.00" stroke="#000" stroke-width="1"/>
<line x1="79.30" y1="389.00" x2="79.30" y2="387.00" stroke="#000" stroke-width="1"/>
<line x1="91.30" y1="389.00" x2="91.30" y2="387.00" stroke="#000" stroke-width="1"/>
<line x1="103.30" y1="389.00" x2="103.30" y2="387.00" stroke="#000" stroke-width="1"/>
<line x1="115.30" y1="389.00" x2="115.30" y2="387.00" stroke="#000" stroke-width="1"/>
<line x1="127.30" y1="389.00" x2="127.30" y2="387.00" stroke="#000" stroke-width="1"/>
<line x1="139.30" y1="389.00" x2="139.30" y2="387.00" stroke="#000" stroke-width="1"/>
<line x1="151.30" y1="389.00" x2="151.30" y2="387.00" stroke="#000" stroke-width="1"/>
<line x1="163.30" y1="389.00" x2="163.30" y2="387.00" stroke="#000" stroke-width="1"/>
<text transform="translate(30.21 329.10) scale(0.9700 1.0000) rotate(0.05)" font-size="9.3" font-weight="bold" style="stroke-width:0.08px">40</text>
<text transform="translate(29.97 354.49) scale(0.9700 1.0000) rotate(0.05)" font-size="9.3" font-weight="bold" style="stroke-width:0.08px">30</text>
<text transform="translate(30.02 379.70) scale(0.9700 1.0000) rotate(0.05)" font-size="9.3" font-weight="bold" style="stroke-width:0.08px">20</text>
<text transform="translate(40.64 399.30) scale(1.0000 1.0000) rotate(0.05)" font-size="9.6" font-weight="bold">0</text>
<text transform="translate(62.00 399.30) scale(1.0000 1.0000) rotate(0.05)" font-size="9.6" font-weight="bold">20</text>
<text transform="translate(86.09 399.30) scale(1.0000 1.0000) rotate(0.05)" font-size="9.6" font-weight="bold">40</text>
<text transform="translate(109.98 399.30) scale(1.0000 1.0000) rotate(0.05)" font-size="9.6" font-weight="bold">60</text>
<text transform="translate(134.01 399.30) scale(1.0000 1.0000) rotate(0.05)" font-size="9.6" font-weight="bold">80</text>
<text transform="translate(155.19 399.30) scale(1.0000 1.0000) rotate(0.05)" font-size="9.6" font-weight="bold">100</text>
<text transform="translate(60.24 412.40) scale(1.0671 1.0000) rotate(0.05)" font-size="10.5" font-weight="bold">Days after BMT</text>
<text transform="translate(26.80 387.05) rotate(-90) scale(1.0582 1.0000) rotate(0.05)" font-size="10.5" font-weight="bold">No. of OTUs</text>
<text transform="translate(52.92 326.70) scale(0.9863 1.0000) rotate(0.05)" font-size="9.6" font-weight="bold">Syngeneic</text>
<text transform="translate(81.76 380.60) scale(0.9828 1.0000) rotate(0.05)" font-size="9.6" font-weight="bold">Allogeneic</text>
<line x1="52.50" y1="339.60" x2="52.50" y2="333.00" stroke="#000" stroke-width="0.9"/>
<line x1="51.30" y1="333.00" x2="53.70" y2="333.00" stroke="#000" stroke-width="0.9"/>
<line x1="49.60" y1="353.40" x2="49.60" y2="344.00" stroke="#000" stroke-width="0.9"/>
<line x1="48.40" y1="344.00" x2="50.80" y2="344.00" stroke="#000" stroke-width="0.9"/>
<line x1="61.10" y1="348.00" x2="61.10" y2="342.00" stroke="#000" stroke-width="0.9"/>
<line x1="59.90" y1="342.00" x2="62.30" y2="342.00" stroke="#000" stroke-width="0.9"/>
<line x1="69.20" y1="364.00" x2="69.20" y2="358.00" stroke="#000" stroke-width="0.9"/>
<line x1="68.00" y1="358.00" x2="70.40" y2="358.00" stroke="#000" stroke-width="0.9"/>
<line x1="94.60" y1="334.80" x2="94.60" y2="329.00" stroke="#000" stroke-width="0.9"/>
<line x1="93.40" y1="329.00" x2="95.80" y2="329.00" stroke="#000" stroke-width="0.9"/>
<line x1="103.20" y1="344.80" x2="103.20" y2="336.00" stroke="#000" stroke-width="0.9"/>
<line x1="102.00" y1="336.00" x2="104.40" y2="336.00" stroke="#000" stroke-width="0.9"/>
<line x1="127.60" y1="331.90" x2="127.60" y2="324.00" stroke="#000" stroke-width="0.9"/>
<line x1="126.40" y1="324.00" x2="128.80" y2="324.00" stroke="#000" stroke-width="0.9"/>
<line x1="127.60" y1="343.80" x2="127.60" y2="352.00" stroke="#000" stroke-width="0.9"/>
<line x1="126.40" y1="352.00" x2="128.80" y2="352.00" stroke="#000" stroke-width="0.9"/>
<line x1="119.50" y1="332.30" x2="119.50" y2="327.00" stroke="#000" stroke-width="0.9"/>
<line x1="118.30" y1="327.00" x2="120.70" y2="327.00" stroke="#000" stroke-width="0.9"/>
<line x1="163.30" y1="348.60" x2="163.30" y2="354.00" stroke="#000" stroke-width="0.9"/>
<line x1="162.10" y1="354.00" x2="164.50" y2="354.00" stroke="#000" stroke-width="0.9"/>
<line x1="144.90" y1="347.60" x2="144.90" y2="352.00" stroke="#000" stroke-width="0.9"/>
<line x1="143.70" y1="352.00" x2="146.10" y2="352.00" stroke="#000" stroke-width="0.9"/>
<polyline points="44.20,360.70 49.60,360.70 52.50,339.60 61.10,348.00 69.20,364.00 78.00,354.30 86.10,340.00 94.60,334.80 103.20,344.80 111.50,340.00 119.50,338.00 127.60,331.90 144.90,339.60 163.30,346.70" fill="none" stroke="#000" stroke-width="1.85" stroke-linejoin="round"/>
<circle cx="44.20" cy="360.70" r="2.62" fill="#fff" stroke="#000" stroke-width="1.15"/>
<circle cx="49.60" cy="360.70" r="2.62" fill="#fff" stroke="#000" stroke-width="1.15"/>
<circle cx="52.50" cy="339.60" r="2.62" fill="#fff" stroke="#000" stroke-width="1.15"/>
<circle cx="61.10" cy="348.00" r="2.62" fill="#fff" stroke="#000" stroke-width="1.15"/>
<circle cx="69.20" cy="364.00" r="2.62" fill="#fff" stroke="#000" stroke-width="1.15"/>
<circle cx="78.00" cy="354.30" r="2.62" fill="#fff" stroke="#000" stroke-width="1.15"/>
<circle cx="86.10" cy="340.00" r="2.62" fill="#fff" stroke="#000" stroke-width="1.15"/>
<circle cx="94.60" cy="334.80" r="2.62" fill="#fff" stroke="#000" stroke-width="1.15"/>
<circle cx="103.20" cy="344.80" r="2.62" fill="#fff" stroke="#000" stroke-width="1.15"/>
<circle cx="111.50" cy="340.00" r="2.62" fill="#fff" stroke="#000" stroke-width="1.15"/>
<circle cx="119.50" cy="338.00" r="2.62" fill="#fff" stroke="#000" stroke-width="1.15"/>
<circle cx="127.60" cy="331.90" r="2.62" fill="#fff" stroke="#000" stroke-width="1.15"/>
<circle cx="144.90" cy="339.60" r="2.62" fill="#fff" stroke="#000" stroke-width="1.15"/>
<circle cx="163.30" cy="346.70" r="2.62" fill="#fff" stroke="#000" stroke-width="1.15"/>
<polyline points="44.20,366.80 49.60,353.40 53.00,354.30 61.10,372.20 69.20,375.50 78.00,364.00 86.10,353.40 94.60,351.50 103.20,353.00 111.50,351.50 119.50,332.30 127.60,343.80 144.90,347.60 163.30,348.60" fill="none" stroke="#000" stroke-width="1.85" stroke-linejoin="round"/>
<circle cx="44.20" cy="366.80" r="3.2" fill="#000"/>
<circle cx="49.60" cy="353.40" r="3.2" fill="#000"/>
<circle cx="53.00" cy="354.30" r="3.2" fill="#000"/>
<circle cx="61.10" cy="372.20" r="3.2" fill="#000"/>
<circle cx="69.20" cy="375.50" r="3.2" fill="#000"/>
<circle cx="78.00" cy="364.00" r="3.2" fill="#000"/>
<circle cx="86.10" cy="353.40" r="3.2" fill="#000"/>
<circle cx="94.60" cy="351.50" r="3.2" fill="#000"/>
<circle cx="103.20" cy="353.00" r="3.2" fill="#000"/>
<circle cx="111.50" cy="351.50" r="3.2" fill="#000"/>
<circle cx="119.50" cy="332.30" r="3.2" fill="#000"/>
<circle cx="127.60" cy="343.80" r="3.2" fill="#000"/>
<circle cx="144.90" cy="347.60" r="3.2" fill="#000"/>
<circle cx="163.30" cy="348.60" r="3.2" fill="#000"/>
<path d="M60.70,377.80L60.70,383.40M58.28,379.20L63.12,382.00M63.12,379.20L58.28,382.00" stroke="#111" stroke-width="1.0" fill="none"/>
<path d="M69.20,381.70L69.20,387.30M66.78,383.10L71.62,385.90M71.62,383.10L66.78,385.90" stroke="#111" stroke-width="1.0" fill="none"/>
<path d="M78.00,370.70L78.00,376.30M75.58,372.10L80.42,374.90M80.42,372.10L75.58,374.90" stroke="#111" stroke-width="1.0" fill="none"/>
<path d="M86.10,361.70L86.10,367.30M83.68,363.10L88.52,365.90M88.52,363.10L83.68,365.90" stroke="#111" stroke-width="1.0" fill="none"/>
<path d="M94.60,359.20L94.60,364.80M92.18,360.60L97.02,363.40M97.02,360.60L92.18,363.40" stroke="#111" stroke-width="1.0" fill="none"/>
<path d="M111.50,359.20L111.50,364.80M109.08,360.60L113.92,363.40M113.92,360.60L109.08,363.40" stroke="#111" stroke-width="1.0" fill="none"/>
<line x1="218.80" y1="321.00" x2="218.80" y2="388.85" stroke="#000" stroke-width="1.3"/>
<line x1="218.15" y1="388.20" x2="340.00" y2="388.20" stroke="#000" stroke-width="1.3"/>
<line x1="218.80" y1="380.38" x2="220.60" y2="380.38" stroke="#000" stroke-width="1"/>
<line x1="218.80" y1="372.85" x2="220.60" y2="372.85" stroke="#000" stroke-width="1"/>
<line x1="218.80" y1="365.32" x2="220.60" y2="365.32" stroke="#000" stroke-width="1"/>
<line x1="218.80" y1="357.80" x2="220.60" y2="357.80" stroke="#000" stroke-width="1"/>
<line x1="218.80" y1="350.27" x2="220.60" y2="350.27" stroke="#000" stroke-width="1"/>
<line x1="218.80" y1="342.75" x2="220.60" y2="342.75" stroke="#000" stroke-width="1"/>
<line x1="218.80" y1="335.22" x2="220.60" y2="335.22" stroke="#000" stroke-width="1"/>
<line x1="218.80" y1="327.70" x2="220.60" y2="327.70" stroke="#000" stroke-width="1"/>
<line x1="230.14" y1="388.20" x2="230.14" y2="386.20" stroke="#000" stroke-width="1"/>
<line x1="242.18" y1="388.20" x2="242.18" y2="386.20" stroke="#000" stroke-width="1"/>
<line x1="254.22" y1="388.20" x2="254.22" y2="386.20" stroke="#000" stroke-width="1"/>
<line x1="266.26" y1="388.20" x2="266.26" y2="386.20" stroke="#000" stroke-width="1"/>
<line x1="278.30" y1="388.20" x2="278.30" y2="386.20" stroke="#000" stroke-width="1"/>
<line x1="290.34" y1="388.20" x2="290.34" y2="386.20" stroke="#000" stroke-width="1"/>
<line x1="302.38" y1="388.20" x2="302.38" y2="386.20" stroke="#000" stroke-width="1"/>
<line x1="314.42" y1="388.20" x2="314.42" y2="386.20" stroke="#000" stroke-width="1"/>
<line x1="326.46" y1="388.20" x2="326.46" y2="386.20" stroke="#000" stroke-width="1"/>
<line x1="338.50" y1="388.20" x2="338.50" y2="386.20" stroke="#000" stroke-width="1"/>
<text transform="translate(203.00 329.17) scale(0.9800 1.0000) rotate(0.05)" font-size="9.5" font-weight="bold">40</text>
<text transform="translate(203.11 343.90) scale(0.9800 1.0000) rotate(0.05)" font-size="9.5" font-weight="bold">30</text>
<text transform="translate(203.06 359.17) scale(0.9800 1.0000) rotate(0.05)" font-size="9.5" font-weight="bold">20</text>
<text transform="translate(203.13 374.47) scale(0.9800 1.0000) rotate(0.05)" font-size="9.5" font-weight="bold">10</text>
<text transform="translate(207.92 389.97) scale(0.9800 1.0000) rotate(0.05)" font-size="9.5" font-weight="bold">0</text>
<text transform="translate(215.44 399.10) scale(1.0000 1.0000) rotate(0.05)" font-size="9.6" font-weight="bold">0</text>
<text transform="translate(236.88 399.10) scale(1.0000 1.0000) rotate(0.05)" font-size="9.6" font-weight="bold">20</text>
<text transform="translate(261.05 399.10) scale(1.0000 1.0000) rotate(0.05)" font-size="9.6" font-weight="bold">40</text>
<text transform="translate(285.02 399.10) scale(1.0000 1.0000) rotate(0.05)" font-size="9.6" font-weight="bold">60</text>
<text transform="translate(309.13 399.10) scale(1.0000 1.0000) rotate(0.05)" font-size="9.6" font-weight="bold">80</text>
<text transform="translate(330.39 399.10) scale(1.0000 1.0000) rotate(0.05)" font-size="9.6" font-weight="bold">100</text>
<text transform="translate(236.74 412.40) scale(1.0724 1.0000) rotate(0.05)" font-size="10.5" font-weight="bold">Days after BMT</text>
<text transform="translate(196.60 381.20) rotate(-90) scale(1.0635 1.0000) rotate(0.05)" font-size="10.8" font-weight="bold"><tspan font-style="italic">E. coli</tspan> (%)</text>
<circle cx="289.20" cy="325.60" r="3.2" fill="#000"/>
<text transform="translate(294.96 328.90) scale(1.0099 1.0000) rotate(0.05)" font-size="9.6" font-weight="bold">Allogeneic</text>
<circle cx="289.20" cy="338.40" r="2.62" fill="#fff" stroke="#000" stroke-width="1.15"/>
<text transform="translate(294.91 341.60) scale(1.0011 1.0000) rotate(0.05)" font-size="9.6" font-weight="bold">Syngeneic</text>
<line x1="235.90" y1="342.80" x2="235.90" y2="338.00" stroke="#000" stroke-width="0.9"/>
<line x1="234.70" y1="338.00" x2="237.10" y2="338.00" stroke="#000" stroke-width="0.9"/>
<line x1="235.90" y1="342.80" x2="235.90" y2="348.60" stroke="#000" stroke-width="0.9"/>
<line x1="234.70" y1="348.60" x2="237.10" y2="348.60" stroke="#000" stroke-width="0.9"/>
<line x1="244.20" y1="329.40" x2="244.20" y2="325.00" stroke="#000" stroke-width="0.9"/>
<line x1="243.00" y1="325.00" x2="245.40" y2="325.00" stroke="#000" stroke-width="0.9"/>
<line x1="252.80" y1="347.20" x2="252.80" y2="342.00" stroke="#000" stroke-width="0.9"/>
<line x1="251.60" y1="342.00" x2="254.00" y2="342.00" stroke="#000" stroke-width="0.9"/>
<line x1="261.10" y1="356.30" x2="261.10" y2="351.00" stroke="#000" stroke-width="0.9"/>
<line x1="259.90" y1="351.00" x2="262.30" y2="351.00" stroke="#000" stroke-width="0.9"/>
<line x1="261.10" y1="356.30" x2="261.10" y2="362.00" stroke="#000" stroke-width="0.9"/>
<line x1="259.90" y1="362.00" x2="262.30" y2="362.00" stroke="#000" stroke-width="0.9"/>
<line x1="269.50" y1="375.50" x2="269.50" y2="370.00" stroke="#000" stroke-width="0.9"/>
<line x1="268.30" y1="370.00" x2="270.70" y2="370.00" stroke="#000" stroke-width="0.9"/>
<line x1="278.00" y1="380.30" x2="278.00" y2="375.00" stroke="#000" stroke-width="0.9"/>
<line x1="276.80" y1="375.00" x2="279.20" y2="375.00" stroke="#000" stroke-width="0.9"/>
<line x1="286.20" y1="383.10" x2="286.20" y2="378.00" stroke="#000" stroke-width="0.9"/>
<line x1="285.00" y1="378.00" x2="287.40" y2="378.00" stroke="#000" stroke-width="0.9"/>
<line x1="261.00" y1="383.30" x2="261.00" y2="378.70" stroke="#000" stroke-width="0.9"/>
<line x1="259.80" y1="378.70" x2="262.20" y2="378.70" stroke="#000" stroke-width="0.9"/>
<polyline points="218.70,388.20 222.80,388.20 226.80,388.20 235.70,388.00 244.20,388.00 252.80,388.00 261.00,383.30 269.50,388.00 278.40,388.00 286.20,388.50 294.50,388.50 303.10,389.00" fill="none" stroke="#000" stroke-width="1.85" stroke-linejoin="round"/>
<circle cx="235.70" cy="388.00" r="2.62" fill="#fff" stroke="#000" stroke-width="1.15"/>
<circle cx="244.20" cy="388.00" r="2.62" fill="#fff" stroke="#000" stroke-width="1.15"/>
<circle cx="252.80" cy="388.00" r="2.62" fill="#fff" stroke="#000" stroke-width="1.15"/>
<circle cx="261.00" cy="383.30" r="2.62" fill="#fff" stroke="#000" stroke-width="1.15"/>
<circle cx="269.50" cy="388.00" r="2.62" fill="#fff" stroke="#000" stroke-width="1.15"/>
<circle cx="278.40" cy="388.00" r="2.62" fill="#fff" stroke="#000" stroke-width="1.15"/>
<circle cx="286.20" cy="388.50" r="2.62" fill="#fff" stroke="#000" stroke-width="1.15"/>
<circle cx="294.50" cy="388.50" r="2.62" fill="#fff" stroke="#000" stroke-width="1.15"/>
<circle cx="303.10" cy="389.00" r="2.62" fill="#fff" stroke="#000" stroke-width="1.15"/>
<polyline points="218.70,388.20 222.80,388.20 226.80,388.20 228.60,388.00 235.90,342.80 244.20,329.40 252.80,347.20 261.10,356.30 269.50,375.50 278.00,380.30 286.20,383.10 294.80,387.00 303.10,387.00 319.80,388.00 338.40,388.00" fill="none" stroke="#000" stroke-width="1.85" stroke-linejoin="round"/>
<circle cx="218.70" cy="388.20" r="3.2" fill="#000"/>
<circle cx="222.80" cy="388.20" r="3.2" fill="#000"/>
<circle cx="226.80" cy="388.20" r="3.2" fill="#000"/>
<circle cx="228.60" cy="388.00" r="3.2" fill="#000"/>
<circle cx="235.90" cy="342.80" r="3.2" fill="#000"/>
<circle cx="244.20" cy="329.40" r="3.2" fill="#000"/>
<circle cx="252.80" cy="347.20" r="3.2" fill="#000"/>
<circle cx="261.10" cy="356.30" r="3.2" fill="#000"/>
<circle cx="269.50" cy="375.50" r="3.2" fill="#000"/>
<circle cx="278.00" cy="380.30" r="3.2" fill="#000"/>
<circle cx="286.20" cy="383.10" r="3.2" fill="#000"/>
<circle cx="294.80" cy="387.00" r="3.2" fill="#000"/>
<circle cx="303.10" cy="387.00" r="3.2" fill="#000"/>
<circle cx="319.80" cy="388.00" r="3.2" fill="#000"/>
<circle cx="338.40" cy="388.00" r="3.2" fill="#000"/>
<path d="M235.90,329.90L235.90,335.50M233.48,331.30L238.32,334.10M238.32,331.30L233.48,334.10" stroke="#111" stroke-width="1.0" fill="none"/>
<path d="M244.20,318.90L244.20,324.50M241.78,320.30L246.62,323.10M246.62,320.30L241.78,323.10" stroke="#111" stroke-width="1.0" fill="none"/>
<path d="M252.80,332.90L252.80,338.50M250.38,334.30L255.22,337.10M255.22,334.30L250.38,337.10" stroke="#111" stroke-width="1.0" fill="none"/>
<path d="M261.10,342.00L261.10,347.60M258.68,343.40L263.52,346.20M263.52,343.40L258.68,346.20" stroke="#111" stroke-width="1.0" fill="none"/>
<path d="M269.50,361.70L269.50,367.30M267.08,363.10L271.92,365.90M271.92,363.10L267.08,365.90" stroke="#111" stroke-width="1.0" fill="none"/>
</svg></body></html>
